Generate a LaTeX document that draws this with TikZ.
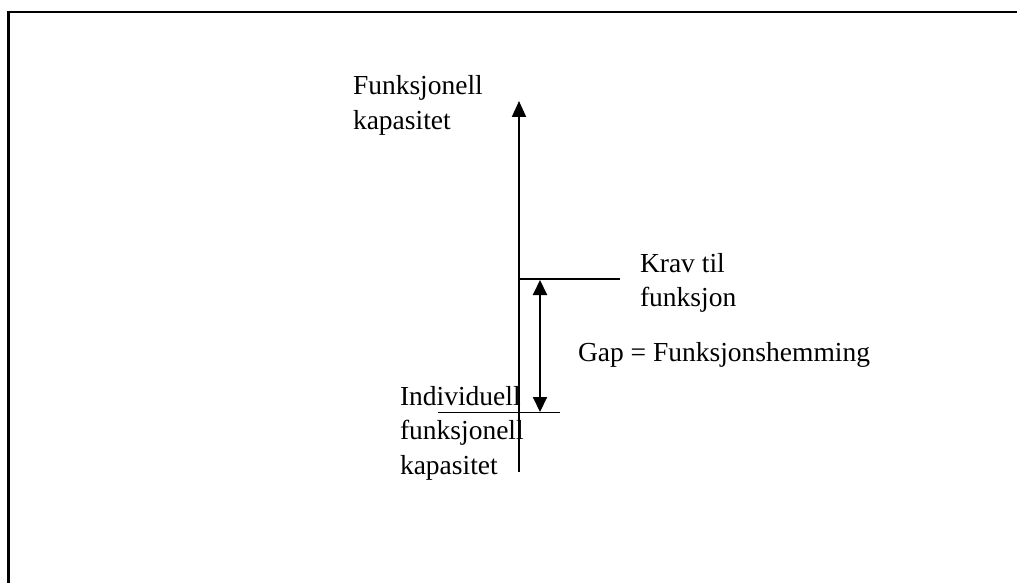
\documentclass[tikz,border=0pt]{standalone}
\usepackage{fontspec}
\setmainfont{Liberation Serif}
\usetikzlibrary{arrows.meta}
\begin{document}
\begin{tikzpicture}[x=1pt,y=-1pt,
  lbl/.style={inner sep=0pt,outer sep=0pt,anchor=base west,align=left,
    font=\fontsize{27.5}{34.5}\selectfont},
  axisline/.style={line width=2pt},
  thinline/.style={line width=1.5pt},
  tip/.style={-{Triangle[length=16pt,width=14pt]}},
  dtip/.style={{Triangle[length=15pt,width=14pt]}-{Triangle[length=15pt,width=14pt]}}]
\useasboundingbox (0,0) rectangle (1017,583);
% frame (top and left edges only)
\draw[line width=2.5pt] (8.5,583) -- (8.5,12) -- (1017,12);
% axis
\coordinate (axbot) at (519,472);
\coordinate (axtop) at (519,101);
\draw[axisline,tip] (axbot) -- (axtop);
% requirement line
\coordinate (kravL) at (519,279);
\coordinate (kravR) at (620,279);
\draw[thinline] (kravL) -- (kravR);
% individual capacity line
\coordinate (indL) at (438,412.5);
\coordinate (indR) at (560,412.5);
\draw[thinline] (indL) -- (indR);
% gap arrow
\coordinate (gtop) at (540,280);
\coordinate (gbot) at (540,412);
\draw[axisline,dtip] (gtop) -- (gbot);
% labels (anchor = baseline of last line)
\node[lbl] (fk) at (353,129.5) {Funksjonell\\kapasitet};
\node[lbl] (krav) at (640,306.5) {Krav til\\funksjon};
\node[lbl] (gap) at (578,361) {Gap = Funksjonshemming};
\node[lbl] (ind) at (400,474) {Individuell\\funksjonell\\kapasitet};
\end{tikzpicture}
\end{document}
